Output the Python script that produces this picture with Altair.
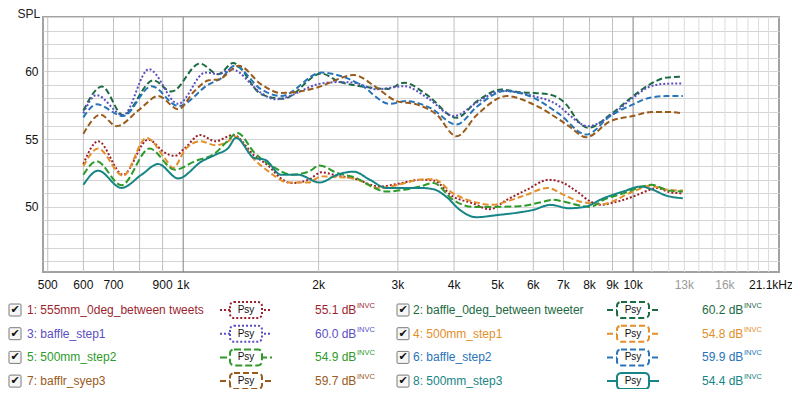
import altair as alt
import pandas as pd

# ---------------- data ----------------
names = ["1: 555mm_0deg_between tweets", "2: baffle_0deg_between tweeter",
         "3: baffle_step1", "4: 500mm_step1", "5: 500mm_step2",
         "6: baffle_step2", "7: bafflr_syep3", "8: 500mm_step3"]
levels = ["55.1 dB", "60.2 dB", "60.0 dB", "54.8 dB", "54.9 dB", "59.9 dB", "59.7 dB", "54.4 dB"]
colors = ["#9c1f2e", "#1b6a42", "#5b4fc4", "#e38f2a", "#2e9a2a", "#2874b8", "#9a5a1a", "#178585"]
dashes = [[2, 2], [6, 3], [2, 2], [6, 3], [7, 3], [6, 3], [6, 3], [1, 0]]

f_1 = [600, 647, 735, 836, 910, 958, 1010, 1090, 1180, 1290, 1440, 1550, 1650, 1740, 1900, 2030, 2200, 2390,
       2730, 3000, 3360, 3600, 3980, 4400, 4800, 5240, 5800, 6500, 7000, 7500, 8040, 8450, 9000, 10000, 10900,
       11300, 12000, 12900]
spl_1 = [53.16, 54.84, 52.37, 54.96, 54.0, 53.76, 54.35, 55.3, 54.84, 55.3, 53.78, 53.0, 52.1, 51.76, 52.0, 52.55,
         52.3, 52.1, 51.5, 51.7, 52.0, 51.95, 50.76, 50.27, 49.83, 50.52, 51.26, 52.0, 51.76, 51.13, 50.4, 50.15,
         50.3, 50.76, 51.26, 51.4, 51.1, 51.0]

f_2 = [600, 660, 735, 858, 942, 1089, 1196, 1291, 1493, 1668, 2030, 2200, 2600, 2850, 3100, 3500, 4050, 4500,
       5100, 5600, 6000, 6500, 7100, 7600, 7950, 8900, 9900, 10900, 11850, 12900]
spl_2 = [57.1, 58.87, 56.76, 59.33, 58.5, 60.57, 59.78, 60.6, 58.3, 57.98, 59.83, 59.3, 58.8, 58.7, 59.16, 58.2,
         56.57, 57.8, 58.65, 58.45, 58.4, 58.3, 57.56, 56.2, 55.83, 56.8, 58.05, 59.04, 59.53, 59.6]

f_3 = [600, 642, 735, 839, 975, 1120, 1200, 1280, 1490, 1600, 2030, 2200, 2390, 2690, 3100, 3500, 4000, 4500,
       5100, 6000, 6850, 7200, 7930, 8900, 10000, 10900, 11850, 12900]
spl_3 = [56.9, 58.24, 56.76, 60.15, 57.6, 59.9, 59.8, 60.15, 58.4, 57.93, 59.1, 59.2, 59.16, 58.67, 58.9, 58.0,
         56.7, 57.7, 58.55, 58.17, 57.43, 56.8, 55.95, 56.7, 58.05, 58.87, 59.08, 59.1]

f_4 = [600, 647, 735, 829, 910, 950, 1010, 1090, 1180, 1260, 1300, 1440, 1550, 1710, 1900, 2030, 2200, 2390,
       2730, 3000, 3360, 3600, 3980, 4400, 4880, 5240, 5800, 6450, 7000, 7600, 8040, 8500, 10000, 10900,
       12000, 12900]
spl_4 = [53.0, 54.3, 52.3, 55.09, 53.6, 52.87, 54.22, 54.84, 54.55, 54.84, 55.2, 53.48, 52.6, 51.8, 51.8, 52.25,
         52.2, 52.1, 51.38, 51.63, 52.0, 52.04, 51.0, 50.4, 50.15, 50.4, 50.9, 51.4, 50.9, 50.4, 50.27, 50.2,
         51.13, 51.55, 51.25, 51.2]

f_5 = [600, 642, 729, 842, 958, 1060, 1180, 1250, 1320, 1440, 1600, 1740, 1900, 2010, 2200, 2390, 2830, 3000,
       3360, 3600, 3980, 4400, 4880, 5600, 6200, 6630, 7000, 7600, 8040, 8600, 9500, 10500, 11000, 12000, 12900]
spl_5 = [52.37, 53.36, 51.6, 54.3, 52.74, 53.36, 53.98, 54.8, 55.45, 54.0, 52.87, 52.37, 52.6, 53.06, 52.5, 52.2,
         51.13, 51.2, 51.5, 51.76, 50.52, 50.0, 50.0, 50.05, 50.32, 50.52, 50.4, 50.1, 50.0, 50.52, 51.0, 51.5,
         51.63, 51.2, 51.13]

f_6 = [600, 642, 735, 851, 975, 1140, 1220, 1300, 1490, 1650, 2030, 2200, 2470, 2880, 3130, 3540, 4050, 4500,
       5190, 6000, 6850, 7870, 8900, 10000, 10900, 11850, 12900]
spl_6 = [56.6, 57.56, 56.7, 58.9, 57.43, 59.04, 59.53, 60.4, 58.67, 58.17, 59.9, 59.73, 59.04, 57.6, 57.8, 57.3,
         56.07, 57.4, 58.55, 58.05, 56.85, 55.33, 56.7, 57.56, 58.05, 58.17, 58.17]

f_7 = [600, 655, 711, 800, 880, 975, 1060, 1140, 1200, 1330, 1490, 1650, 2030, 2200, 2390, 2690, 2980, 3300,
       3660, 4050, 4500, 5240, 6000, 6850, 7200, 7870, 8900, 10000, 11000, 11850, 12900]
spl_7 = [55.4, 56.8, 55.95, 57.19, 58.17, 57.2, 58.55, 59.33, 59.4, 60.4, 59.04, 58.4, 58.9, 59.4, 59.73, 58.8,
         57.8, 57.56, 56.8, 55.2, 56.8, 58.17, 57.56, 56.44, 55.95, 55.14, 56.32, 56.7, 57.0, 57.0, 56.9]

f_8 = [600, 647, 729, 808, 880, 975, 1100, 1180, 1260, 1310, 1440, 1520, 1650, 1800, 2010, 2200, 2390, 2600,
       2830, 3360, 3600, 3840, 4120, 4480, 5000, 5600, 6000, 6550, 7200, 7800, 8600, 9500, 10400, 11000,
       11800, 12900]
spl_8 = [51.63, 52.67, 51.4, 52.37, 53.16, 52.1, 53.36, 53.85, 54.35, 55.09, 53.6, 53.48, 52.37, 52.37, 51.8,
         52.37, 52.6, 52.0, 51.4, 51.4, 51.3, 50.76, 49.78, 49.24, 49.4, 49.6, 49.78, 50.15, 49.9, 50.0, 50.64,
         51.13, 51.5, 51.3, 50.85, 50.64]

freq_lists = [f_1, f_2, f_3, f_4, f_5, f_6, f_7, f_8]
spl_lists = [spl_1, spl_2, spl_3, spl_4, spl_5, spl_6, spl_7, spl_8]

grid_f_main = [500, 600, 700, 800, 900, 2000, 3000, 4000, 5000, 6000, 7000, 8000, 9000]
grid_f_dark = [1000, 10000]
grid_f_light = [11000, 12000, 13000, 14000, 15000, 16000, 17000, 18000, 19000, 20000]
x_tick_values = [500, 600, 700, 900, 1000, 2000, 3000, 4000, 5000, 6000, 7000, 8000, 9000, 10000, 13000, 16000]
x_tick_labels = ["500", "600", "700", "900", "1k", "2k", "3k", "4k", "5k", "6k", "7k", "8k", "9k", "10k", "13k", "16k"]
x_last_value = 21100
x_last_label = "21.1kHz"
y_grid_values = list(range(46, 65))

# ---------------- layout ----------------
W, H = 736, 255
FONT = "Liberation Sans"

rows = []
for n, fs, ss in zip(names, freq_lists, spl_lists):
    for f, s in zip(fs, ss):
        rows.append({"name": n, "f": f, "spl": s})
curve_df = pd.DataFrame(rows)

xs = alt.Scale(type="log", domain=[488, 21100], nice=False)
ys = alt.Scale(domain=[45.2, 64], nice=False, zero=False)
color_scale = alt.Scale(domain=names, range=colors)
dash_scale = alt.Scale(domain=names, range=dashes)


def vgrid(vals, col):
    return alt.Chart(pd.DataFrame({"f": vals})).mark_rule(color=col, strokeWidth=1).encode(
        x=alt.X("f:Q", scale=xs, axis=None))


curves = alt.Chart(curve_df).mark_line(strokeWidth=2, interpolate="monotone").encode(
    x=alt.X("f:Q", scale=xs, axis=None),
    y=alt.Y("spl:Q", scale=ys, axis=alt.Axis(
        values=y_grid_values, labelExpr="datum.value % 5 == 0 ? datum.label : ''",
        grid=True, gridColor="#d4d4d4", gridWidth=1, domain=False, ticks=False,
        labelPadding=5, labelFont=FONT, labelFontSize=12, labelColor="#111",
        title="SPL", titleAngle=0, titleAlign="left", titleBaseline="middle",
        titleX=-26, titleY=-4, titleFont=FONT, titleFontSize=12, titleFontWeight="normal",
        titleColor="#222")),
    color=alt.Color("name:N", scale=color_scale, legend=None),
    strokeDash=alt.StrokeDash("name:N", scale=dash_scale, legend=None),
    order=alt.Order("f:Q"),
)

xlab_df = pd.DataFrame({"f": x_tick_values, "label": x_tick_labels})
xlabels = alt.Chart(xlab_df).mark_text(font=FONT, fontSize=12, baseline="middle").encode(
    x=alt.X("f:Q", scale=xs, axis=None),
    y=alt.value(H + 13),
    text="label:N",
    color=alt.condition("datum.f == 13000 || datum.f == 16000", alt.value("#9a9a9a"), alt.value("#111")),
)
xlast = alt.Chart(pd.DataFrame({"f": [x_last_value], "label": [x_last_label]})).mark_text(
    font=FONT, fontSize=12, baseline="middle", dx=-8, color="#111").encode(
    x=alt.X("f:Q", scale=xs, axis=None), y=alt.value(H + 13), text="label:N")

plot = alt.layer(vgrid(grid_f_light, "#dcdcdc"), vgrid(grid_f_main, "#c0c0c0"),
                 vgrid(grid_f_dark, "#808080"), curves, xlabels, xlast)

# ---------------- legend ----------------
leg_df = pd.DataFrame({"name": names, "level": levels, "idx": list(range(len(names)))})
lx = alt.Scale(domain=[0, 800], range=[-43, 757], zero=False, nice=False)
ly = alt.Scale(domain=[0, 400], range=[-17, 383], zero=False, nice=False)

base = alt.Chart(leg_df).transform_calculate(
    col="datum.idx % 2", row="floor(datum.idx / 2)"
).transform_calculate(
    cy="310 + datum.row * 23.7",
    cb0="datum.col == 0 ? 9 : 397",
    nx="datum.col == 0 ? 27 : 413",
    l0="datum.col == 0 ? 220 : 607",
    b0="datum.col == 0 ? 230 : 617",
    vx="datum.col == 0 ? 315 : 702",
).transform_calculate(
    cb1="datum.cb0 + 12", cyt="datum.cy - 6", cyb="datum.cy + 6",
    l1="datum.l0 + 52", b1="datum.b0 + 32", bc="datum.b0 + 16",
    by0="datum.cy - 8", by1="datum.cy + 8", cbc="datum.cb0 + 6",
    sx="datum.vx + 42", sy="datum.cy - 4",
)

cb_rect = base.mark_rect(fill="#f6f6f6", stroke="#7a7a7a", strokeWidth=1, cornerRadius=1).encode(
    x=alt.X("cb0:Q", scale=lx, axis=None), x2="cb1:Q",
    y=alt.Y("cyt:Q", scale=ly, axis=None), y2="cyb:Q")
cb_check = base.mark_text(text="✔", font="DejaVu Sans", fontSize=11, color="#111", baseline="middle").encode(
    x=alt.X("cbc:Q", scale=lx, axis=None), y=alt.Y("cy:Q", scale=ly, axis=None))
name_text = base.mark_text(font=FONT, fontSize=12, align="left", baseline="middle").encode(
    x=alt.X("nx:Q", scale=lx, axis=None), y=alt.Y("cy:Q", scale=ly, axis=None),
    text="name:N", color=alt.Color("name:N", scale=color_scale, legend=None))
psy_line = base.mark_rule(strokeWidth=2).encode(
    x=alt.X("l0:Q", scale=lx, axis=None), x2="l1:Q",
    y=alt.Y("cy:Q", scale=ly, axis=None),
    color=alt.Color("name:N", scale=color_scale, legend=None),
    strokeDash=alt.StrokeDash("name:N", scale=dash_scale, legend=None))

psy_boxes = []
for i, (c, d) in enumerate(zip(colors, dashes)):
    psy_boxes.append(
        base.transform_filter(f"datum.idx == {i}").mark_rect(
            fill="white", stroke=c, strokeWidth=2, cornerRadius=4, strokeDash=d).encode(
            x=alt.X("b0:Q", scale=lx, axis=None), x2="b1:Q",
            y=alt.Y("by0:Q", scale=ly, axis=None), y2="by1:Q"))

psy_text = base.mark_text(text="Psy", font=FONT, fontSize=10, color="#111", baseline="middle").encode(
    x=alt.X("bc:Q", scale=lx, axis=None), y=alt.Y("cy:Q", scale=ly, axis=None))
val_text = base.mark_text(font=FONT, fontSize=12, align="left", baseline="middle").encode(
    x=alt.X("vx:Q", scale=lx, axis=None), y=alt.Y("cy:Q", scale=ly, axis=None),
    text="level:N", color=alt.Color("name:N", scale=color_scale, legend=None))
sup_text = base.mark_text(text="INVC", font=FONT, fontSize=7.5, align="left", baseline="middle").encode(
    x=alt.X("sx:Q", scale=lx, axis=None), y=alt.Y("sy:Q", scale=ly, axis=None),
    color=alt.Color("name:N", scale=color_scale, legend=None))

legend = alt.layer(cb_rect, cb_check, name_text, psy_line, *psy_boxes, psy_text, val_text, sup_text)

chart = alt.layer(plot, legend).resolve_scale(x="independent", y="independent").properties(
    width=W, height=H, autosize=alt.AutoSizeParams(type="none"),
    padding={"left": 35, "top": 9, "right": 13, "bottom": 117},
    background="white",
).configure_view(stroke="#a2a2a2", strokeWidth=2)

chart.save("out.html", embed_options={"renderer": "svg", "actions": False})
